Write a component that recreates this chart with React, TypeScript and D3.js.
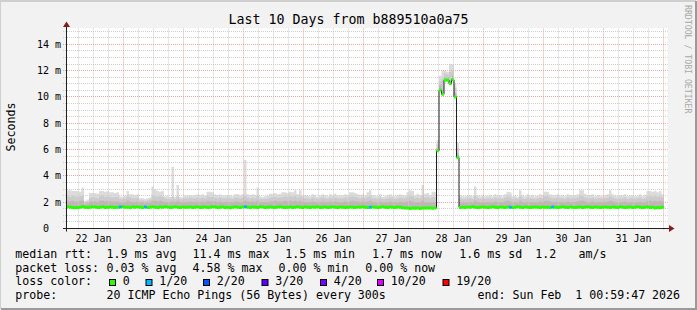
import React from "react";
import * as d3 from "d3";

const W = 697;
const H = 310;

const title = "Last 10 Days from b889510a0a75";
const yLabel = "Seconds";
const watermark = "RRDTOOL / TOBI OETIKER";
const yTicks = [0, 2, 4, 6, 8, 10, 12, 14];
const yMax = 15.2;
const startISO = "2026-01-22T01:12:00Z";
const spanHours = 240;

// hourly median rtt (ms)
const median: (number | null)[] = [
  1.65,1.62,1.6,1.58,1.6,1.62,1.65,1.62,1.6,1.62,1.65,1.63,1.6,1.62,1.65,1.6,1.62,1.64,1.62,1.6,1.62,1.63,1.65,1.62,
  1.62,1.6,1.64,1.62,1.65,1.62,1.6,1.63,1.6,1.62,1.65,1.62,1.6,1.64,1.62,1.66,1.63,1.6,1.62,1.65,1.62,1.6,1.63,1.62,
  1.62,1.64,1.6,1.62,1.65,1.6,1.62,1.64,1.6,1.62,1.65,1.63,1.6,1.62,1.64,1.6,1.62,1.58,1.62,1.65,1.62,1.6,1.63,1.65,
  1.62,1.6,1.64,1.62,1.6,1.65,1.63,1.6,1.62,1.64,1.62,1.6,1.63,1.65,1.62,1.6,1.62,1.64,1.6,1.62,1.65,1.62,1.6,1.63,
  1.62,1.6,1.63,1.62,1.65,1.6,1.62,1.64,1.6,1.62,1.65,1.62,1.6,1.63,1.62,1.6,1.62,1.64,1.62,1.6,1.63,1.62,1.65,1.62,
  1.6,1.62,1.64,1.62,1.6,1.62,1.65,1.62,1.6,1.63,1.62,1.6,1.64,1.62,1.58,1.55,1.55,1.52,1.55,1.53,1.55,1.52,1.55,1.55,
  1.55,1.55,1.53,1.55,5.9,10.5,10.2,11.26,11.26,11.0,11.3,10.0,5.4,1.6,1.62,1.6,1.63,1.62,1.65,1.62,1.6,1.62,1.64,1.62,
  1.6,1.62,1.65,1.62,1.6,1.63,1.62,1.6,1.64,1.62,1.6,1.62,1.65,1.62,1.6,1.63,1.62,1.6,1.62,1.64,1.62,1.6,1.63,1.62,
  1.62,1.6,1.64,1.62,1.6,1.62,1.65,1.62,1.6,1.63,1.62,1.6,1.62,1.64,1.6,1.62,1.65,1.62,1.6,1.63,1.62,1.6,1.62,1.64,
  1.62,1.6,1.63,1.62,1.6,1.65,1.62,1.6,1.62,1.64,1.6,1.62,1.65,1.62,1.6,1.62,1.63,1.6,1.62,1.55,1.6,1.58,1.62,null,
];

// hourly smoke: upper edge of the faint, middle and dark bands (ms)
const smokeHigh: (number | null)[] = [
  2.9,2.9,2.85,2.85,2.85,2.8,3.1,2.1,2.2,2.7,2.7,2.7,2.65,2.85,2.85,2.8,2.85,2.75,2.75,2.7,2.75,2.45,2.4,2.5,
  2.85,2.6,2.6,2.55,2.6,2.3,2.3,2.25,2.3,2.35,3.2,3.0,2.85,2.8,2.85,2.45,2.45,2.4,4.7,2.4,3.3,2.4,2.35,2.5,
  2.5,2.55,2.5,2.55,2.6,2.55,2.6,2.5,2.8,2.8,2.75,2.6,2.55,2.6,2.5,2.5,2.55,2.5,2.45,2.6,2.6,2.55,2.6,5.2,
  2.6,2.55,2.6,2.55,3.1,2.45,2.4,2.45,2.5,2.65,2.65,2.7,2.6,2.65,2.75,2.75,2.7,2.8,2.75,2.9,2.6,2.9,2.5,2.55,
  2.5,2.45,2.6,2.55,2.4,2.5,2.6,2.55,2.45,2.6,2.55,2.65,2.5,2.55,2.5,2.6,2.55,2.75,2.75,2.7,2.6,2.55,2.6,2.5,
  2.75,2.9,2.55,2.5,2.45,2.6,2.4,2.45,2.55,2.6,2.5,2.45,2.55,2.6,2.55,2.5,2.75,2.9,2.85,2.5,2.65,2.55,3.3,2.65,
  2.7,2.55,2.8,2.8,6.7,11.6,12.0,12.0,11.9,12.5,12.5,11.0,6.5,2.55,2.45,2.45,2.5,2.55,2.45,3.2,2.5,2.45,2.55,2.45,
  2.5,2.55,2.45,2.6,2.5,2.55,2.45,2.6,2.8,2.75,2.45,2.5,2.4,2.9,2.55,2.45,2.6,2.5,2.55,2.45,2.5,2.6,2.55,2.8,
  2.8,2.6,2.55,2.5,2.6,2.5,2.55,2.45,2.6,2.55,2.5,2.55,2.6,2.9,2.9,2.65,2.5,2.55,2.6,2.45,2.55,2.5,2.45,2.55,
  2.6,2.9,2.6,2.5,2.45,2.55,2.5,2.6,2.45,2.5,2.55,2.45,2.5,2.6,2.45,2.55,2.85,2.85,2.8,2.85,2.75,2.85,2.6,null,
];

const smokeMid: (number | null)[] = [
  2.45,2.4,2.5,2.45,2.4,2.45,2.5,2.0,2.05,2.35,2.4,2.35,2.3,2.45,2.5,2.4,2.45,2.4,2.35,2.4,2.4,2.25,2.2,2.3,
  2.45,2.35,2.3,2.3,2.35,2.15,2.15,2.1,2.15,2.2,2.5,2.45,2.4,2.45,2.4,2.3,2.25,2.25,2.4,2.25,2.45,2.25,2.2,2.3,
  2.3,2.35,2.3,2.3,2.35,2.3,2.35,2.3,2.45,2.4,2.4,2.35,2.3,2.35,2.3,2.3,2.35,2.3,2.25,2.35,2.35,2.3,2.35,2.5,
  2.35,2.3,2.35,2.3,2.45,2.25,2.25,2.25,2.3,2.35,2.4,2.4,2.35,2.35,2.4,2.45,2.4,2.45,2.4,2.5,2.35,2.45,2.3,2.3,
  2.3,2.25,2.35,2.3,2.25,2.3,2.35,2.3,2.25,2.35,2.3,2.35,2.3,2.3,2.3,2.35,2.3,2.4,2.45,2.4,2.35,2.3,2.35,2.3,
  2.4,2.45,2.3,2.3,2.25,2.35,2.25,2.25,2.3,2.35,2.3,2.25,2.3,2.35,2.3,2.3,2.4,2.45,2.45,2.3,2.35,2.3,2.5,2.35,
  2.4,2.3,2.4,2.4,6.4,11.2,11.4,11.8,11.7,11.9,12.0,10.7,6.1,2.3,2.25,2.25,2.3,2.3,2.25,2.5,2.3,2.25,2.3,2.25,
  2.3,2.3,2.25,2.35,2.3,2.3,2.25,2.35,2.45,2.4,2.25,2.3,2.25,2.45,2.3,2.25,2.35,2.3,2.3,2.25,2.3,2.35,2.3,2.45,
  2.45,2.35,2.3,2.3,2.35,2.3,2.3,2.25,2.35,2.3,2.3,2.3,2.35,2.5,2.45,2.35,2.3,2.3,2.35,2.25,2.3,2.3,2.25,2.3,
  2.35,2.45,2.35,2.3,2.25,2.3,2.3,2.35,2.25,2.3,2.3,2.25,2.3,2.35,2.25,2.3,2.45,2.45,2.4,2.45,2.4,2.45,2.35,null,
];

const smokeLow: (number | null)[] = [
  2.1,2.05,2.1,2.05,2.05,2.1,2.1,1.85,1.9,2.05,2.05,2.05,2.0,2.1,2.1,2.05,2.1,2.05,2.05,2.05,2.05,2.0,1.95,2.0,
  2.1,2.05,2.0,2.0,2.05,1.95,1.95,1.9,1.95,1.95,2.1,2.1,2.05,2.1,2.05,2.0,2.0,2.0,2.05,2.0,2.1,2.0,1.95,2.0,
  2.0,2.05,2.0,2.0,2.05,2.0,2.05,2.0,2.1,2.05,2.05,2.05,2.0,2.05,2.0,2.0,2.05,2.0,2.0,2.05,2.05,2.0,2.0,2.1,
  2.05,2.0,2.05,2.0,2.1,2.0,1.95,2.0,2.0,2.05,2.05,2.1,2.05,2.05,2.05,2.1,2.05,2.1,2.05,2.1,2.05,2.1,2.0,2.0,
  2.0,2.0,2.05,2.0,1.95,2.0,2.05,2.0,2.0,2.05,2.0,2.05,2.0,2.0,2.0,2.05,2.0,2.05,2.1,2.05,2.05,2.0,2.05,2.0,
  2.05,2.1,2.0,2.0,1.95,2.05,1.95,2.0,2.0,2.05,2.0,2.0,2.0,2.05,2.0,2.0,2.05,2.1,2.05,1.95,2.0,1.95,2.1,2.0,
  2.0,1.95,2.0,2.0,6.1,10.9,10.6,11.5,11.5,11.3,11.6,10.3,5.7,2.0,1.95,1.95,2.0,2.0,1.95,2.1,2.0,1.95,2.0,1.95,
  2.0,2.0,1.95,2.05,2.0,2.0,1.95,2.05,2.1,2.05,1.95,2.0,1.95,2.1,2.0,1.95,2.05,2.0,2.0,1.95,2.0,2.05,2.0,2.1,
  2.1,2.05,2.0,2.0,2.05,2.0,2.0,1.95,2.05,2.0,2.0,2.0,2.05,2.1,2.1,2.05,2.0,2.0,2.05,1.95,2.0,2.0,1.95,2.0,
  2.05,2.1,2.05,2.0,1.95,2.0,2.0,2.05,1.95,2.0,2.0,1.95,2.0,2.05,1.95,2.0,2.1,2.1,2.05,2.1,2.05,2.1,2.05,null,
];

// hours with packet loss, and the lost pings (of 20)
const lossHours = [21, 31, 71, 121, 177, 194];
const lossCounts = [1, 1, 1, 1, 1, 1];

const lossThresholds = [0, 1, 2, 3, 4, 10, 19];
const lossColors = ["#26ff00", "#00b8ff", "#0059ff", "#5e00ff", "#7e00ff", "#dd00ff", "#ff0000"];
const lossLabels = ["0", "1/20", "2/20", "3/20", "4/20", "10/20", "19/20"];

const rttStats = ["1.9 ms avg", "11.4 ms max", "1.5 ms min", "1.7 ms now", "1.6 ms sd", "1.2", "am/s"];
const lossStats = ["0.03 % avg", "4.58 % max", "0.00 % min", "0.00 % now"];
const probeText = "20 ICMP Echo Pings (56 Bytes) every 300s";
const endText = "end: Sun Feb  1 00:59:47 2026";

// ---- layout ----
const plot = { left: 66.5, right: 666.5, top: 28.5, bottom: 228.5 };
const rowY = [258, 271.7, 285.3, 299];
const labelX = 15.3;
const rttX = [106.6, 192.6, 285.3, 372, 459.3, 535.3, 578.6];
const lossX = [106.6, 192.6, 278.6, 365.3];
const boxX = [109.5, 146, 203.5, 262, 320.5, 377.5, 443];
const mono = "'DejaVu Sans Mono', monospace";

type P = { t: number; v: number | null; i: number };

export default function App() {
  const t0 = new Date(startISO).getTime();
  const time = (h: number) => new Date(t0 + h * 3600e3);
  const x = d3.scaleUtc().domain([time(0), time(spanHours)]).range([plot.left, plot.right]);
  const y = d3.scaleLinear().domain([0, yMax]).range([plot.bottom, plot.top]);
  const crisp = (v: number) => Math.round(v - 0.5) + 0.5;

  const steps = (vals: (number | null)[]): P[] => {
    const pts: P[] = [];
    vals.forEach((v, i) => {
      pts.push({ t: i, v, i });
      pts.push({ t: i + 1, v, i });
    });
    return pts;
  };

  const smokeArea = d3
    .area<P>()
    .defined((p) => p.v != null && median[p.i] != null)
    .x((p) => x(time(p.t)))
    .y0((p) => y(median[p.i] as number))
    .y1((p) => y(p.v as number));

  const lossOf = (i: number) => {
    const k = lossHours.indexOf(i);
    return k >= 0 ? lossCounts[k] : 0;
  };
  const levelOf = (c: number) => {
    let lv = 0;
    lossThresholds.forEach((th, k) => {
      if (c >= th) lv = k;
    });
    return lv;
  };

  const medPts = steps(median);
  const bandPath = (lv: number) =>
    d3
      .area<P>()
      .defined((p) => p.v != null && levelOf(lossOf(p.i)) === lv)
      .x((p) => x(time(p.t)))
      .y0((p) => y(p.v as number) + 1.5)
      .y1((p) => y(p.v as number) - 1.5)(medPts) || "";

  const medLine =
    d3
      .line<P>()
      .defined((p) => p.v != null)
      .x((p) => x(time(p.t)))
      .y((p) => y(p.v as number))(medPts) || "";

  const [d0, d1] = x.domain();
  const days = d3.utcDay.range(d3.utcDay.floor(d0), d1).filter((d) => +d >= +d0 - 86400e3);
  const majorV = d3.utcDay.range(d0, d1);
  const minorV = d3.utcHour.every(6)!.range(d0, d1).filter((d) => d.getUTCHours() !== 0);
  const minorH = d3.range(0.5, yMax, 0.5).filter((v) => v % 2 !== 0);
  const majorH = yTicks.filter((v) => v > 0);
  const fmtDay = d3.utcFormat("%d %b");

  return (
    <svg width={W} height={H} style={{ display: "block", position: "absolute", left: 0, top: 0 }}>
      <rect x={0} y={0} width={W} height={H} fill="#f2f2f2" />
      <path d={`M0,${H - 1}V1H${W - 1}`} stroke="#cfcfcf" strokeWidth={2} fill="none" />
      <path d={`M1,${H - 1}H${W - 1}V1`} stroke="#9a9a9a" strokeWidth={2} fill="none" />

      <rect x={plot.left} y={plot.top - 0.5} width={plot.right - plot.left + 1} height={plot.bottom - plot.top} fill="#ffffff" />

      {/* smoke */}
      <path d={smokeArea(steps(smokeHigh)) || ""} fill="#dcdcdc" />
      <path d={smokeArea(steps(smokeMid)) || ""} fill="#cbcbcb" />
      <path d={smokeArea(steps(smokeLow)) || ""} fill="#b9b9b9" />

      {/* grid */}
      {minorH.map((v) => (
        <line key={"mh" + v} x1={63} x2={plot.right + 1} y1={crisp(y(v))} y2={crisp(y(v))} stroke="#cfcfcf" strokeDasharray="1 1" />
      ))}
      {minorV.map((d) => (
        <line key={"mv" + +d} x1={crisp(x(d))} x2={crisp(x(d))} y1={plot.top} y2={plot.bottom + 2} stroke="#cfcfcf" strokeDasharray="1 1" />
      ))}
      {majorH.map((v) => (
        <line key={"Mh" + v} x1={63} x2={plot.right + 1} y1={crisp(y(v))} y2={crisp(y(v))} stroke="#eca4a4" strokeDasharray="1 1" />
      ))}
      {majorV.map((d) => (
        <line key={"Mv" + +d} x1={crisp(x(d))} x2={crisp(x(d))} y1={plot.top} y2={plot.bottom + 2} stroke="#eca4a4" strokeDasharray="1 1" />
      ))}

      {/* median */}
      <path d={medLine} stroke="#202020" strokeWidth={1} fill="none" />
      {lossColors.map((c, lv) => (
        <path key={"band" + lv} d={bandPath(lv)} fill={c} />
      ))}

      {/* axes */}
      <line x1={63} x2={670} y1={plot.bottom} y2={plot.bottom} stroke="#202020" />
      <line x1={plot.left} x2={plot.left} y1={plot.bottom + 3} y2={24} stroke="#202020" />
      <path d={`M669,${plot.bottom - 3.5}L674.5,${plot.bottom}L669,${plot.bottom + 3.5}Z`} fill="#8b1a1a" />
      <path d={`M${plot.left - 3.5},27L${plot.left},21.5L${plot.left + 3.5},27Z`} fill="#8b1a1a" />

      {/* y tick labels */}
      {yTicks.map((v) => (
        <text
          key={"yt" + v}
          x={v === 0 ? 49 : 61}
          y={y(v) + 3.5}
          textAnchor="end"
          fontFamily={mono}
          fontSize={10}
          fill="#000"
        >
          {v === 0 ? "0" : `${v} m`}
        </text>
      ))}

      {/* x tick labels */}
      {days.map((d) => {
        const mid = new Date(+d + 12 * 3600e3);
        if (+mid < +d0 || +mid > +d1) return null;
        return (
          <text key={"xt" + +d} x={x(mid)} y={241.5} textAnchor="middle" fontFamily={mono} fontSize={10} fill="#000">
            {fmtDay(mid)}
          </text>
        );
      })}

      {/* title & labels */}
      <text x={W / 2} y={24} textAnchor="middle" fontFamily={mono} fontSize={13.3} fill="#000">
        {title}
      </text>
      <text transform="translate(15,127) rotate(-90)" textAnchor="middle" fontFamily={mono} fontSize={11.6} fill="#000">
        {yLabel}
      </text>
      <text transform="translate(684.5,5) rotate(90)" fontFamily={mono} fontSize={8.2} fill="#a8a8a8">
        {watermark}
      </text>

      {/* legend */}
      <g fontFamily={mono} fontSize={11.6} fill="#000" style={{ whiteSpace: "pre" }}>
        <text x={labelX} y={rowY[0]}>median rtt:</text>
        {rttStats.map((s, k) => (
          <text key={"r" + k} x={rttX[k]} y={rowY[0]}>{s}</text>
        ))}
        <text x={labelX} y={rowY[1]}>packet loss:</text>
        {lossStats.map((s, k) => (
          <text key={"l" + k} x={lossX[k]} y={rowY[1]}>{s}</text>
        ))}
        <text x={labelX} y={rowY[2]}>loss color:</text>
        {lossColors.map((c, k) => (
          <g key={"b" + k}>
            <rect x={boxX[k]} y={279.5} width={6} height={6} fill={c} stroke="#000" strokeWidth={1} />
            <text x={boxX[k] + 13.3} y={rowY[2]}>{lossLabels[k]}</text>
          </g>
        ))}
        <text x={labelX} y={rowY[3]}>probe:</text>
        <text x={rttX[0]} y={rowY[3]}>{probeText}</text>
        <text x={477.6} y={rowY[3]} xmlSpace="preserve">{endText}</text>
      </g>
    </svg>
  );
}
